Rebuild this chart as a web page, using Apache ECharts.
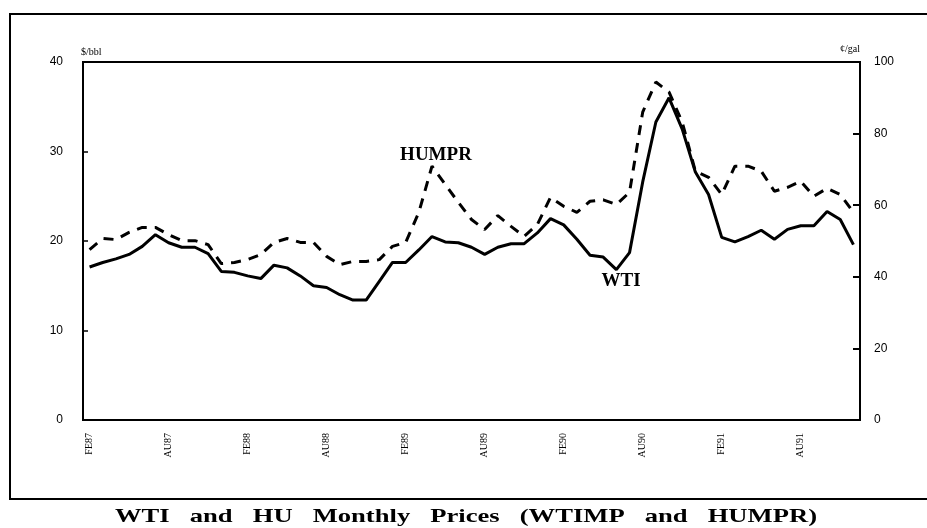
<!DOCTYPE html>
<html>
<head>
<meta charset="utf-8">
<script src="https://cdn.jsdelivr.net/npm/echarts@6/dist/echarts.min.js"></script>
<style>
html,body{margin:0;padding:0;background:#fff;}
#chart{width:927px;height:528px;}
</style>
</head>
<body>
<div id="chart"></div>
<script>
const months = [
  "FE87","MR87","AP87","MY87","JN87","JL87","AU87","SE87","OC87","NO87","DE87",
  "JA88","FE88","MR88","AP88","MY88","JN88","JL88","AU88","SE88","OC88","NO88","DE88",
  "JA89","FE89","MR89","AP89","MY89","JN89","JL89","AU89","SE89","OC89","NO89","DE89",
  "JA90","FE90","MR90","AP90","MY90","JN90","JL90","AU90","SE90","OC90","NO90","DE90",
  "JA91","FE91","MR91","AP91","MY91","JN91","JL91","AU91","SE91","OC91","NO91","DE91"
];
const tickLabels = ["FE87","AU87","FE88","AU88","FE89","AU89","FE90","AU90","FE91","AU91"];
const wti = [
  17.1,17.6,18.0,18.5,19.4,20.7,19.8,19.3,19.3,18.6,16.6,16.5,
  16.1,15.8,17.3,17.0,16.1,15.0,14.8,14.0,13.4,13.4,15.5,17.6,
  17.6,19.0,20.5,19.9,19.8,19.3,18.5,19.3,19.7,19.7,20.9,22.5,
  21.8,20.2,18.4,18.2,16.8,18.7,26.6,33.3,36.0,32.5,27.7,25.2,
  20.4,19.9,20.5,21.2,20.2,21.3,21.7,21.7,23.3,22.4,19.6
];
const humpr = [
  47.6,50.7,50.4,52.4,53.8,53.8,51.8,50.1,50.1,49.0,43.7,44.0,
  44.8,46.2,49.6,50.7,49.6,49.6,45.7,43.4,44.3,44.3,44.8,48.5,
  49.6,58.0,70.9,65.8,60.8,56.0,53.2,57.1,54.1,51.3,54.6,62.2,
  59.7,58.0,61.1,61.5,60.2,63.6,86.0,94.4,91.6,83.2,69.5,67.8,
  63.0,70.9,70.9,69.5,63.9,65.0,66.7,62.5,64.7,63.0,58.0
];
const titleWords = ["WTI","and","HU","Monthly","Prices","(WTIMP","and","HUMPR)"];

const chart = echarts.init(document.getElementById('chart'), null, {renderer:'canvas'});
const serif = "'Liberation Serif', 'DejaVu Serif', serif";
const titleFont = "bold 19px " + serif;
const titleScale = 1.4, titleLeft = 115, titleRight = 817, titleY = 517;

// lay the title words out evenly between titleLeft and titleRight
const ctx = document.createElement('canvas').getContext('2d');
ctx.font = titleFont;
const widths = titleWords.map(w => ctx.measureText(w).width * titleScale);
const totalW = widths.reduce((a,b)=>a+b,0);
const gap = (titleRight - titleLeft - totalW) / (titleWords.length - 1);

const graphics = [
  {type:'rect', shape:{x:10,y:14,width:930,height:485}, style:{fill:'none',stroke:'#000',lineWidth:2}, z:0},
  {type:'text', x:436, y:155, style:{text:'HUMPR', font:"bold 19px " + serif, fill:'#000', textAlign:'center', textVerticalAlign:'middle'}},
  {type:'text', x:621, y:281, style:{text:'WTI', font:"bold 19px " + serif, fill:'#000', textAlign:'center', textVerticalAlign:'middle'}}
];
let cx = titleLeft;
titleWords.forEach((w,i)=>{
  graphics.push({type:'text', x:cx, y:titleY, scaleX:titleScale, originX:0, originY:0,
    style:{text:w, font:titleFont, fill:'#000', textAlign:'left', textVerticalAlign:'middle'}});
  cx += widths[i] + gap;
});

chart.setOption({
  animation:false,
  backgroundColor:'#fff',
  grid:{left:83, right:67, top:62, bottom:108, show:true, borderColor:'#000', borderWidth:2, backgroundColor:'transparent'},
  xAxis:{
    type:'category', data:months, boundaryGap:true,
    axisLine:{lineStyle:{color:'#000', width:2}},
    axisTick:{inside:true, length:5, interval:0, lineStyle:{color:'#000', width:1.5}},
    axisLabel:{interval:5, rotate:90, margin:13, color:'#000', fontSize:10, fontFamily:serif,
      formatter:(v)=> tickLabels.indexOf(v) >= 0 ? v : ''},
    splitLine:{show:false}
  },
  yAxis:[
    {type:'value', min:0, max:40, interval:10, position:'left',
     name:'$/bbl', nameLocation:'end', nameGap:5,
     nameTextStyle:{align:'left', color:'#000', fontSize:10, fontFamily:serif, padding:[0,0,0,-2]},
     axisLine:{show:true, lineStyle:{color:'#000', width:2}},
     axisTick:{show:true, inside:true, length:5, lineStyle:{color:'#000', width:1.5}},
     axisLabel:{color:'#000', fontSize:12, margin:20, fontFamily:"'Liberation Sans', sans-serif"},
     splitLine:{show:false}},
    {type:'value', min:0, max:100, interval:20, position:'right',
     name:'¢/gal', nameLocation:'end', nameGap:8,
     nameTextStyle:{align:'right', color:'#000', fontSize:10, fontFamily:serif, padding:[0,0,0,0]},
     axisLine:{show:true, lineStyle:{color:'#000', width:2}},
     axisTick:{show:true, inside:true, length:7, lineStyle:{color:'#000', width:2}},
     axisLabel:{color:'#000', fontSize:12, margin:14, fontFamily:"'Liberation Sans', sans-serif"},
     splitLine:{show:false}}
  ],
  series:[
    {name:'WTI', type:'line', yAxisIndex:0, data:wti, symbol:'none',
     lineStyle:{color:'#000', width:3, type:'solid'}, z:3},
    {name:'HUMPR', type:'line', yAxisIndex:1, data:humpr, symbol:'none',
     lineStyle:{color:'#000', width:3, type:[10,8]}, z:2}
  ],
  graphic:graphics
});
</script>
</body>
</html>
